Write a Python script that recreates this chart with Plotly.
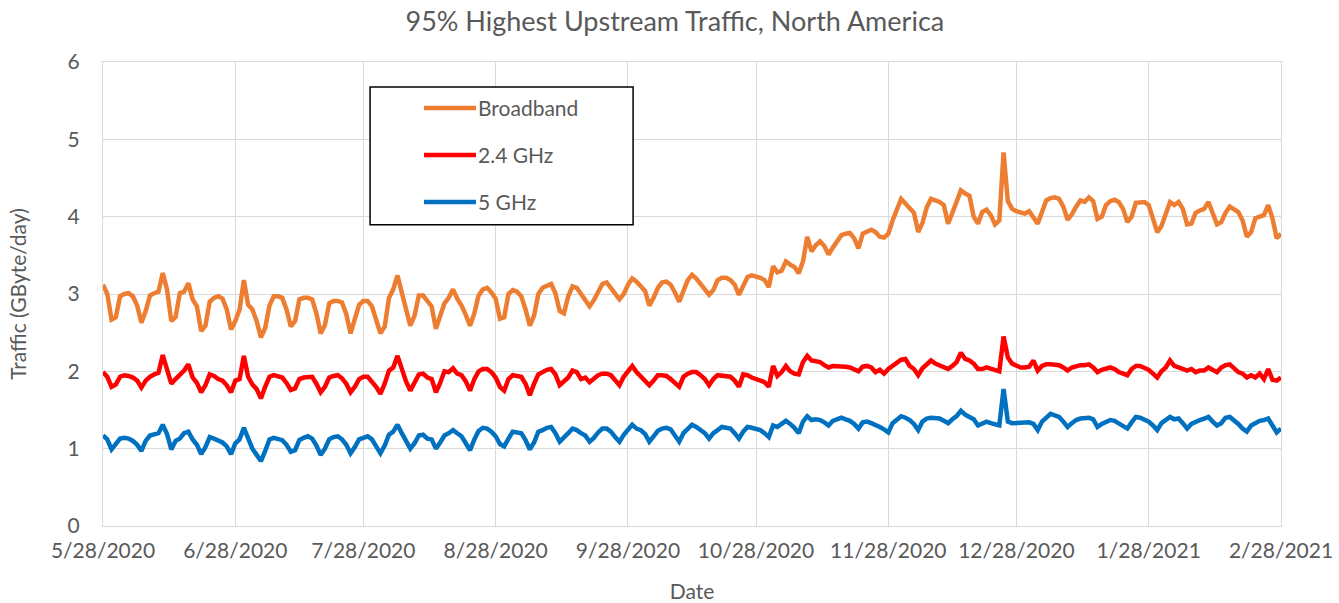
import pandas as pd
import plotly.graph_objects as go

# ---- data (daily values, one row per week Thu..Wed, starting 5/28/2020) ----
start_date = "2020-05-28"
broadband = [
    3.12, 3.00, 2.67, 2.70, 2.97, 3.00, 3.01,
    2.97, 2.85, 2.63, 2.78, 2.98, 3.01, 3.03,
    3.27, 3.06, 2.65, 2.70, 3.01, 3.03, 3.14,
    2.93, 2.84, 2.52, 2.59, 2.90, 2.95, 2.97,
    2.94, 2.80, 2.54, 2.65, 2.80, 3.18, 2.86,
    2.80, 2.65, 2.44, 2.56, 2.85, 2.97, 2.97,
    2.95, 2.80, 2.58, 2.65, 2.93, 2.95, 2.95,
    2.93, 2.75, 2.49, 2.60, 2.88, 2.91, 2.91,
    2.89, 2.74, 2.49, 2.66, 2.86, 2.91, 2.91,
    2.84, 2.68, 2.49, 2.58, 2.95, 3.06, 3.24,
    3.02, 2.78, 2.59, 2.72, 2.98, 2.98, 2.90,
    2.84, 2.55, 2.70, 2.88, 2.95, 3.06, 2.94,
    2.85, 2.73, 2.59, 2.75, 2.98, 3.06, 3.08,
    3.02, 2.94, 2.68, 2.70, 3.00, 3.05, 3.03,
    2.97, 2.80, 2.59, 2.72, 3.00, 3.08, 3.10,
    3.13, 3.01, 2.78, 2.75, 2.97, 3.10, 3.08,
    3.00, 2.93, 2.84, 2.92, 3.02, 3.13, 3.15,
    3.08, 3.00, 2.93, 3.00, 3.12, 3.20, 3.16,
    3.10, 3.04, 2.85, 2.95, 3.08, 3.15, 3.16,
    3.12, 3.02, 2.90, 3.04, 3.18, 3.25, 3.20,
    3.13, 3.07, 2.99, 3.05, 3.18, 3.21, 3.21,
    3.18, 3.12, 2.99, 3.10, 3.22, 3.24, 3.23,
    3.21, 3.18, 3.09, 3.36, 3.28, 3.30, 3.42,
    3.38, 3.35, 3.27, 3.42, 3.74, 3.55, 3.63,
    3.68, 3.62, 3.51, 3.60, 3.68, 3.76, 3.78,
    3.79, 3.72, 3.59, 3.78, 3.80, 3.83, 3.80,
    3.74, 3.73, 3.78, 3.95, 4.10, 4.23, 4.17,
    4.10, 4.05, 3.80, 3.92, 4.12, 4.23, 4.21,
    4.19, 4.15, 3.91, 4.05, 4.20, 4.34, 4.30,
    4.27, 4.00, 3.91, 4.06, 4.09, 4.02, 3.90,
    3.95, 4.83, 4.20, 4.10, 4.07, 4.06, 4.04,
    4.07, 3.98, 3.91, 4.06, 4.21, 4.24, 4.25,
    4.23, 4.13, 3.96, 4.03, 4.13, 4.21, 4.19,
    4.25, 4.20, 3.97, 4.00, 4.15, 4.20, 4.22,
    4.19, 4.10, 3.93, 4.00, 4.18, 4.19, 4.19,
    4.15, 3.95, 3.80, 3.88, 4.05, 4.19, 4.15,
    4.19, 4.10, 3.90, 3.91, 4.05, 4.08, 4.10,
    4.19, 4.06, 3.90, 3.93, 4.05, 4.13, 4.09,
    4.06, 3.95, 3.74, 3.80, 3.98, 4.00, 4.02,
    4.15, 3.98, 3.72, 3.78,
]
ghz24 = [
    1.99, 1.93, 1.80, 1.83, 1.93, 1.95, 1.94,
    1.92, 1.88, 1.79, 1.88, 1.93, 1.96, 1.98,
    2.21, 2.00, 1.84, 1.90, 1.95, 2.01, 2.09,
    1.92, 1.85, 1.73, 1.82, 1.96, 1.94, 1.90,
    1.88, 1.82, 1.73, 1.88, 1.90, 2.20, 1.93,
    1.83, 1.77, 1.65, 1.80, 1.93, 1.95, 1.93,
    1.92, 1.85, 1.76, 1.78, 1.90, 1.92, 1.93,
    1.93, 1.84, 1.73, 1.80, 1.92, 1.94, 1.95,
    1.91, 1.84, 1.73, 1.80, 1.90, 1.93, 1.93,
    1.87, 1.80, 1.71, 1.84, 2.01, 2.05, 2.20,
    2.03, 1.87, 1.75, 1.85, 1.96, 1.97, 1.92,
    1.90, 1.73, 1.85, 2.00, 1.99, 2.04, 1.97,
    1.95, 1.87, 1.75, 1.90, 2.00, 2.03, 2.03,
    1.99, 1.92, 1.80, 1.75, 1.90, 1.95, 1.94,
    1.93, 1.84, 1.69, 1.84, 1.96, 1.99, 2.02,
    2.03, 1.96, 1.82, 1.88, 1.92, 2.01, 1.99,
    1.90, 1.92, 1.86, 1.90, 1.95, 1.97, 1.97,
    1.95, 1.88, 1.82, 1.93, 2.00, 2.07, 1.99,
    1.93, 1.86, 1.82, 1.88, 1.95, 1.95, 1.94,
    1.90, 1.85, 1.80, 1.93, 1.97, 1.99, 1.99,
    1.95, 1.90, 1.82, 1.90, 1.95, 1.94, 1.93,
    1.93, 1.88, 1.80, 1.96, 1.95, 1.92, 1.90,
    1.89, 1.86, 1.80, 2.07, 1.94, 1.99, 2.07,
    2.00, 1.97, 1.96, 2.12, 2.20, 2.14, 2.13,
    2.12, 2.08, 2.05, 2.07, 2.07, 2.07, 2.06,
    2.05, 2.02, 2.00, 2.06, 2.07, 2.05, 1.99,
    2.02, 1.97, 2.03, 2.07, 2.10, 2.15, 2.16,
    2.07, 2.03, 1.95, 2.04, 2.10, 2.14, 2.10,
    2.08, 2.05, 2.03, 2.07, 2.12, 2.24, 2.16,
    2.14, 2.10, 2.03, 2.03, 2.05, 2.03, 2.01,
    2.00, 2.45, 2.18, 2.10, 2.07, 2.05, 2.05,
    2.06, 2.14, 2.01, 2.07, 2.09, 2.09, 2.09,
    2.08, 2.05, 2.01, 2.05, 2.07, 2.08, 2.08,
    2.09, 2.05, 1.99, 2.02, 2.04, 2.05, 2.03,
    1.99, 1.97, 1.95, 2.03, 2.07, 2.07, 2.05,
    2.02, 1.97, 1.92, 2.00, 2.05, 2.14, 2.07,
    2.05, 2.03, 2.01, 2.03, 1.99, 2.01, 2.01,
    2.05, 2.02, 1.99, 2.05, 2.08, 2.09, 2.03,
    1.99, 1.97, 1.92, 1.95, 1.92, 1.97, 1.90,
    2.03, 1.89, 1.88, 1.92,
]
ghz5 = [
    1.17, 1.12, 0.99, 1.05, 1.13, 1.14, 1.13,
    1.10, 1.05, 0.97, 1.10, 1.17, 1.19, 1.20,
    1.31, 1.19, 0.99, 1.10, 1.13, 1.20, 1.22,
    1.12, 1.05, 0.93, 1.02, 1.15, 1.13, 1.10,
    1.08, 1.03, 0.93, 1.07, 1.12, 1.27, 1.12,
    1.00, 0.92, 0.84, 0.97, 1.12, 1.14, 1.12,
    1.11, 1.05, 0.96, 0.98, 1.11, 1.14, 1.16,
    1.13, 1.04, 0.92, 1.00, 1.12, 1.15, 1.16,
    1.12, 1.05, 0.94, 1.02, 1.12, 1.14, 1.16,
    1.12, 1.03, 0.94, 1.04, 1.18, 1.22, 1.31,
    1.20, 1.09, 1.00, 1.07, 1.17, 1.18, 1.13,
    1.12, 1.00, 1.08, 1.17, 1.20, 1.24, 1.20,
    1.16, 1.07, 0.98, 1.12, 1.23, 1.27, 1.26,
    1.22, 1.16, 1.06, 1.03, 1.13, 1.22, 1.21,
    1.20, 1.11, 0.99, 1.08, 1.22, 1.24, 1.27,
    1.28, 1.20, 1.09, 1.14, 1.20, 1.26, 1.24,
    1.20, 1.17, 1.09, 1.14, 1.21, 1.26, 1.26,
    1.22, 1.15, 1.09, 1.18, 1.25, 1.31, 1.26,
    1.24, 1.19, 1.09, 1.16, 1.23, 1.26, 1.27,
    1.25, 1.17, 1.09, 1.20, 1.26, 1.31, 1.28,
    1.24, 1.20, 1.13, 1.20, 1.24, 1.28, 1.27,
    1.26, 1.20, 1.13, 1.22, 1.28, 1.27, 1.26,
    1.24, 1.20, 1.15, 1.30, 1.28, 1.32, 1.36,
    1.32, 1.27, 1.20, 1.35, 1.42, 1.37, 1.38,
    1.37, 1.34, 1.30, 1.36, 1.38, 1.40, 1.38,
    1.36, 1.32, 1.26, 1.34, 1.35, 1.33, 1.31,
    1.28, 1.25, 1.21, 1.33, 1.37, 1.42, 1.40,
    1.37, 1.32, 1.24, 1.35, 1.39, 1.40, 1.39,
    1.39, 1.36, 1.33, 1.38, 1.42, 1.49, 1.44,
    1.41, 1.38, 1.30, 1.32, 1.35, 1.33, 1.31,
    1.30, 1.77, 1.35, 1.33, 1.33, 1.33, 1.33,
    1.34, 1.32, 1.24, 1.35, 1.40, 1.45, 1.43,
    1.41, 1.35, 1.28, 1.33, 1.37, 1.39, 1.40,
    1.40, 1.38, 1.28, 1.32, 1.35, 1.37, 1.36,
    1.33, 1.30, 1.26, 1.34, 1.41, 1.40, 1.38,
    1.35, 1.30, 1.24, 1.33, 1.37, 1.41, 1.38,
    1.39, 1.33, 1.26, 1.32, 1.35, 1.37, 1.39,
    1.41, 1.35, 1.30, 1.33, 1.40, 1.41, 1.37,
    1.32, 1.26, 1.22, 1.30, 1.33, 1.36, 1.37,
    1.39, 1.30, 1.21, 1.26,
]
tick_dates = ["2020-05-28", "2020-06-28", "2020-07-28", "2020-08-28", "2020-09-28",
              "2020-10-28", "2020-11-28", "2020-12-28", "2021-01-28", "2021-02-28"]
tick_labels = ["5/28/2020", "6/28/2020", "7/28/2020", "8/28/2020", "9/28/2020",
               "10/28/2020", "11/28/2020", "12/28/2020", "1/28/2021", "2/28/2021"]
series_names = ["Broadband", "2.4 GHz", "5 GHz"]
series_colors = ["#ED7D31", "#FF0000", "#0070C0"]

dates = pd.date_range(start_date, periods=len(broadband), freq="D")
series_values = [broadband, ghz24, ghz5]

FONT = "Lato"
GRAY = "#595959"
GRID = "#D9D9D9"

fig = go.Figure()
for name, color, vals in zip(series_names, series_colors, series_values):
    fig.add_trace(go.Scatter(x=dates, y=vals, mode="lines", name=name,
                             line=dict(color=color, width=4.5), showlegend=False))

# manual legend box (Excel style)
fig.add_shape(type="rect", xref="paper", yref="paper", x0=0.2267, x1=0.450,
              y0=0.649, y1=0.946, line=dict(color="black", width=1.5),
              fillcolor="white", layer="above")
leg_y = [0.9009, 0.7996, 0.6983]
for name, color, yy in zip(series_names, series_colors, leg_y):
    fig.add_shape(type="line", xref="paper", yref="paper", x0=0.2725, x1=0.3166,
                  y0=yy, y1=yy, line=dict(color=color, width=4.5), layer="above")
    fig.add_annotation(xref="paper", yref="paper", x=0.3166, y=yy, text=name,
                       showarrow=False, xanchor="left", yanchor="middle",
                       font=dict(family=FONT, size=21, color=GRAY))

fig.update_layout(
    width=1339, height=603, autosize=False,
    margin=dict(l=103, r=58, t=62, b=77),
    plot_bgcolor="white", paper_bgcolor="white",
    font=dict(family=FONT, color=GRAY),
    title=dict(text="95% Highest Upstream Traffic, North America",
               x=0.504, xanchor="center", y=0.9635, yanchor="middle",
               font=dict(family=FONT, size=27, color=GRAY)),
    xaxis=dict(type="date", range=[dates[0], pd.Timestamp("2021-02-28")],
               tickvals=tick_dates, ticktext=tick_labels, automargin=False,
               showgrid=True, gridcolor=GRID, gridwidth=1,
               showline=True, linecolor=GRID, linewidth=1, mirror=True,
               ticks="", ticklabelstandoff=6,
               tickfont=dict(family=FONT, size=21, color=GRAY),
               title=dict(text="Date", font=dict(family=FONT, size=21, color=GRAY),
                          standoff=24)),
    yaxis=dict(range=[0, 6], dtick=1, tick0=0, automargin=False,
               showgrid=True, gridcolor=GRID, gridwidth=1,
               showline=True, linecolor=GRID, linewidth=1, mirror=True,
               zeroline=False, ticks="", ticklabelstandoff=18,
               tickfont=dict(family=FONT, size=21, color=GRAY),
               title=dict(text="Traffic (GByte/day)",
                          font=dict(family=FONT, size=21, color=GRAY),
                          standoff=35)),
)

# remove the page's default body margin so the figure fills the window exactly
fig.write_html("out.html", config={"displayModeBar": False},
               post_script="document.body.style.margin='0';")
